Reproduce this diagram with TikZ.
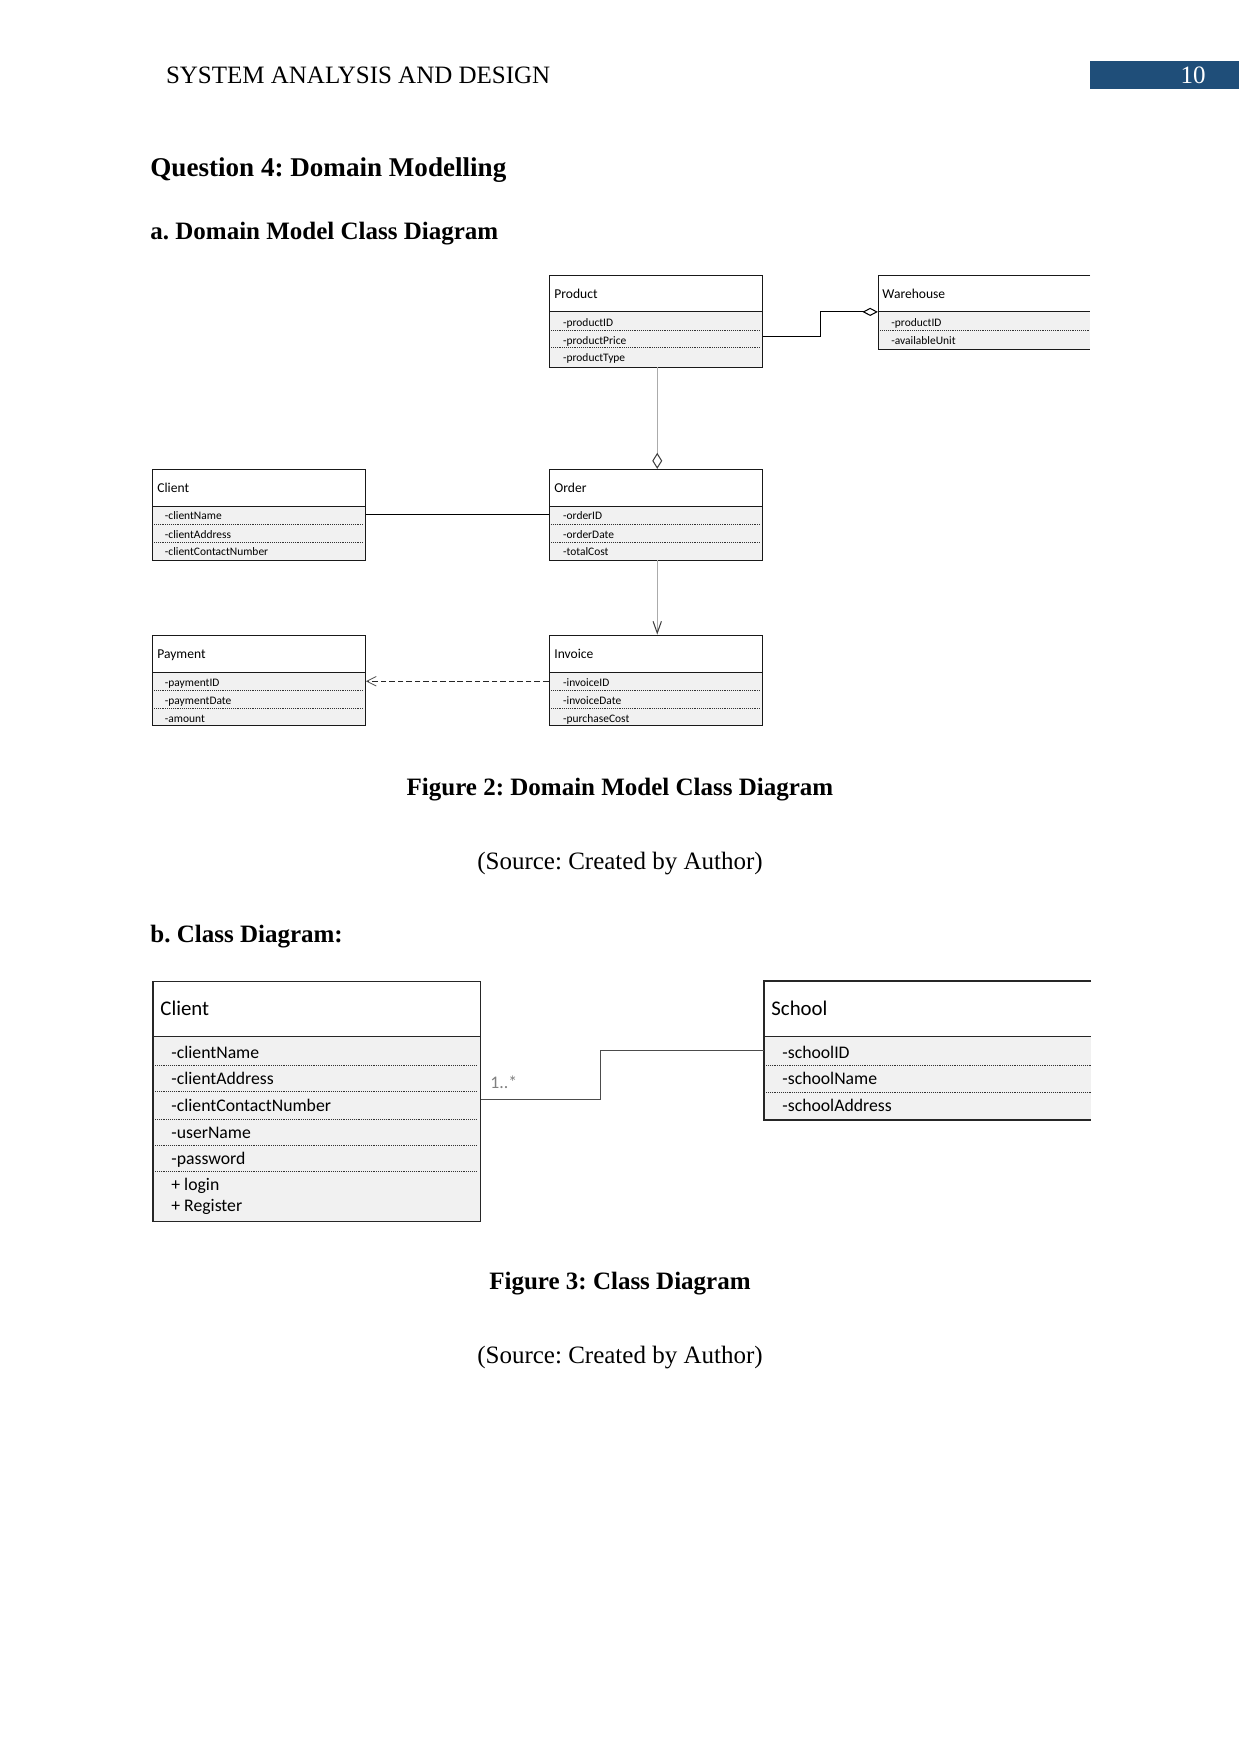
\documentclass[tikz,border=0pt]{standalone}
\usepackage{fontspec}
\setmainfont{Liberation Serif}
\newfontfamily\calibri{Carlito}
\usetikzlibrary{arrows.meta,calc,fit}
\definecolor{hdrblue}{HTML}{1F4E79}
\definecolor{attrfill}{HTML}{F1F1F1}
\definecolor{lightline}{HTML}{ABABAB}
\frenchspacing
\begin{document}
\begin{tikzpicture}[x=0.48pt,y=-0.48pt,
  pagetxt/.style={font=\fontsize{12}{14}\selectfont,inner sep=0pt,anchor=base west},
  pagebold/.style={font=\fontsize{12}{14}\selectfont\bfseries,inner sep=0pt,anchor=base west},
  capbold/.style={font=\fontsize{12}{14}\selectfont\bfseries,inner sep=0pt,anchor=base},
  captxt/.style={font=\fontsize{12}{14}\selectfont,inner sep=0pt,anchor=base},
  frame/.style={draw=black!90,line width=0.45pt,inner sep=0pt},
  bigframe/.style={draw=black!85,line width=0.75pt,inner sep=0pt},
  noframe/.style={draw=none,inner sep=0pt},
  sepline/.style={black!80,line width=0.35pt,dash pattern=on 0.45pt off 0.45pt},
  dhead/.style={font=\calibri\fontsize{6.5}{7}\selectfont,inner sep=0pt,anchor=west,text height=0.66em,text depth=0pt,yshift=0.8pt},
  dattr/.style={font=\calibri\fontsize{5.5}{6}\selectfont,inner sep=0pt,anchor=west,text height=0.66em,text depth=0pt,yshift=0.6pt},
  chead/.style={font=\calibri\fontsize{10}{12}\selectfont,inner sep=0pt,anchor=west,text height=0.66em,text depth=0pt},
  cattr/.style={font=\calibri\fontsize{8.5}{10}\selectfont,inner sep=0pt,anchor=west,text height=0.66em,text depth=0pt},
  assoc/.style={draw=black,line width=0.5pt},
  faint/.style={draw=lightline,line width=0.5pt},
  depend/.style={draw=black!85,line width=0.55pt,dash pattern=on 2.7pt off 1.4pt}
]
\useasboundingbox (0,0) rectangle (1241,1754);
\fill[white] (0,0) rectangle (1241,1754);

% ---------- page header ----------
\node[pagetxt] (runhead) at (165.6,83.5) {SYSTEM ANALYSIS AND DESIGN};
\node[noframe,fill=hdrblue,fit={(1090,60.5) (1239,89)}] (numbox) {};
\node[captxt,text=white] (pagenum) at (1193,83.5) {10};

\node[font=\fontsize{13}{15}\selectfont\bfseries,inner sep=0pt,anchor=base west] (q4) at (150,176.5) {Question 4: Domain Modelling};
\node[pagebold] (suba) at (150,239) {a. Domain Model Class Diagram};

% ---------- Product ----------
\fill[attrfill] (549,311.3) rectangle (762.7,367);
\node[frame,fit={(549,275.3) (762.7,367)}] (product) {};
\draw[black!90,line width=0.45pt] (549,311.3) -- (762.7,311.3);
\draw[sepline] (551,330.7) -- (760.7,330.7);
\draw[sepline] (551,347.3) -- (760.7,347.3);
\node[dhead] (productT) at (554,293) {Product};
\node[dattr] (productA) at (562.7,320.7) {-productID};
\node[dattr] (productB) at (562.7,339) {-productPrice};
\node[dattr] (productC) at (562.7,356.3) {-productType};

% ---------- Warehouse (open right side) ----------
\fill[attrfill] (878.3,311.3) rectangle (1090,349);
\node[noframe,fit={(878.3,275.3) (1090,349)}] (warehouse) {};
\draw[black!90,line width=0.45pt] (1090,275.3) -- (878.3,275.3) -- (878.3,349) -- (1090,349);
\draw[black!90,line width=0.45pt] (878.3,311.3) -- (1090,311.3);
\draw[sepline] (880.3,330.7) -- (1090,330.7);
\node[dhead] (warehouseT) at (882,293) {Warehouse};
\node[dattr] (warehouseA) at (891,320.7) {-productID};
\node[dattr] (warehouseB) at (891,339) {-availableUnit};

% ---------- Client (domain) ----------
\fill[attrfill] (152,506) rectangle (365.3,560);
\node[frame,fit={(152,469.3) (365.3,560)}] (client) {};
\draw[black!90,line width=0.45pt] (152,506) -- (365.3,506);
\draw[sepline] (154,524) -- (363.3,524);
\draw[sepline] (154,542) -- (363.3,542);
\node[dhead] (clientT) at (157,487.5) {Client};
\node[dattr] (clientA) at (164.5,514) {-clientName};
\node[dattr] (clientB) at (164.5,532.7) {-clientAddress};
\node[dattr] (clientC) at (164.5,550) {-clientContactNumber};

% ---------- Order ----------
\fill[attrfill] (549,506) rectangle (762.7,560);
\node[frame,fit={(549,469.3) (762.7,560)}] (order) {};
\draw[black!90,line width=0.45pt] (549,506) -- (762.7,506);
\draw[sepline] (551,524) -- (760.7,524);
\draw[sepline] (551,542) -- (760.7,542);
\node[dhead] (orderT) at (554,487.5) {Order};
\node[dattr] (orderA) at (562.7,514) {-orderID};
\node[dattr] (orderB) at (562.7,532.7) {-orderDate};
\node[dattr] (orderC) at (562.7,550) {-totalCost};

% ---------- Payment ----------
\fill[attrfill] (152,672.3) rectangle (365.3,725.7);
\node[frame,fit={(152,635) (365.3,725.7)}] (payment) {};
\draw[black!90,line width=0.45pt] (152,672.3) -- (365.3,672.3);
\draw[sepline] (154,690.3) -- (363.3,690.3);
\draw[sepline] (154,708.3) -- (363.3,708.3);
\node[dhead] (paymentT) at (157,653.5) {Payment};
\node[dattr] (paymentA) at (164.5,681) {-paymentID};
\node[dattr] (paymentB) at (164.5,699) {-paymentDate};
\node[dattr] (paymentC) at (164.5,716.5) {-amount};

% ---------- Invoice ----------
\fill[attrfill] (549,672.3) rectangle (762.7,725.7);
\node[frame,fit={(549,635) (762.7,725.7)}] (invoice) {};
\draw[black!90,line width=0.45pt] (549,672.3) -- (762.7,672.3);
\draw[sepline] (551,690.3) -- (760.7,690.3);
\draw[sepline] (551,708.3) -- (760.7,708.3);
\node[dhead] (invoiceT) at (554,653.5) {Invoice};
\node[dattr] (invoiceA) at (562.7,681) {-invoiceID};
\node[dattr] (invoiceB) at (562.7,699) {-invoiceDate};
\node[dattr] (invoiceC) at (562.7,716.5) {-purchaseCost};

% ---------- domain connectors ----------
\draw[assoc,-{Diamond[open,length=7.4pt,width=3.9pt,fill=white]}]
  ($(product.north east)+(0,62)$) -| ($(warehouse.north west)+(-57.6,37)$) -- ($(warehouse.north west)+(0,37)$);
\draw[faint,-{Diamond[open,length=7.7pt,width=4.8pt,fill=white,color=black!75]}]
  ($(product.south)+(1.4,0)$) -- ($(order.north)+(1.4,0)$);
\draw[assoc] ($(client.north east)+(0,45.7)$) -- ($(order.north west)+(0,45.7)$);
\draw[faint,-{Straight Barb[length=5.6pt,width=4pt,color=black!75]}]
  ($(order.south)+(1.4,0)$) -- ($(invoice.north)+(1.4,0)$);
\draw[depend,-{Straight Barb[length=4.6pt,width=4.6pt,color=black!70,line width=0.4pt]}]
  ($(invoice.north west)+(0,46.7)$) -- ($(payment.north east)+(0,46.7)$);

\node[capbold] (fig2) at (620,795.5) {Figure 2: Domain Model Class Diagram};
\node[captxt] (src2) at (620,869) {(Source: Created by Author)};
\node[pagebold] (subb) at (150,942.5) {b. Class Diagram:};

% ---------- Client (class diagram) ----------
\fill[attrfill] (153,1036.7) rectangle (480.7,1221.7);
\node[bigframe,fit={(153,981.7) (480.7,1221.7)}] (client2) {};
\draw[black!85,line width=0.75pt] (153,1036.7) -- (480.7,1036.7);
\foreach \yy in {1065.7,1091.7,1119,1145,1171}
  \draw[sepline] (155,\yy) -- (476,\yy);
\node[chead] (client2T) at (160,1009) {Client};
\node[cattr] (client2A) at (171,1052) {-clientName};
\node[cattr] (client2B) at (171,1078) {-clientAddress};
\node[cattr] (client2C) at (171,1105) {-clientContactNumber};
\node[cattr] (client2D) at (171,1131.7) {-userName};
\node[cattr] (client2E) at (171,1157.7) {-password};
\node[cattr] (client2F) at (171,1184) {+ login};
\node[cattr] (client2G) at (171,1205) {+ Register};

% ---------- School (open right side) ----------
\fill[attrfill] (764,1036.7) rectangle (1091,1120);
\node[noframe,fit={(764,981) (1091,1120)}] (school) {};
\draw[black!85,line width=0.75pt] (1091,981) -- (764,981) -- (764,1120) -- (1091,1120);
\draw[black!85,line width=0.75pt] (764,1036.7) -- (1091,1036.7);
\foreach \yy in {1065.7,1092}
  \draw[sepline] (766,\yy) -- (1091,\yy);
\node[chead] (schoolT) at (771,1009) {School};
\node[cattr] (schoolA) at (782,1052) {-schoolID};
\node[cattr] (schoolB) at (782,1078) {-schoolName};
\node[cattr] (schoolC) at (782,1105) {-schoolAddress};

% ---------- class connector ----------
\draw[draw=black!70,line width=0.6pt]
  ($(client2.north east)+(0,118.3)$) -| ($(school.north west)+(-163,70)$) -- ($(school.north west)+(0,70)$);
\node[cattr,text=black!50] (mult) at (490,1082) {1..*};

\node[capbold] (fig3) at (620,1289.5) {Figure 3: Class Diagram};
\node[captxt] (src3) at (620,1363.5) {(Source: Created by Author)};
\end{tikzpicture}
\end{document}
